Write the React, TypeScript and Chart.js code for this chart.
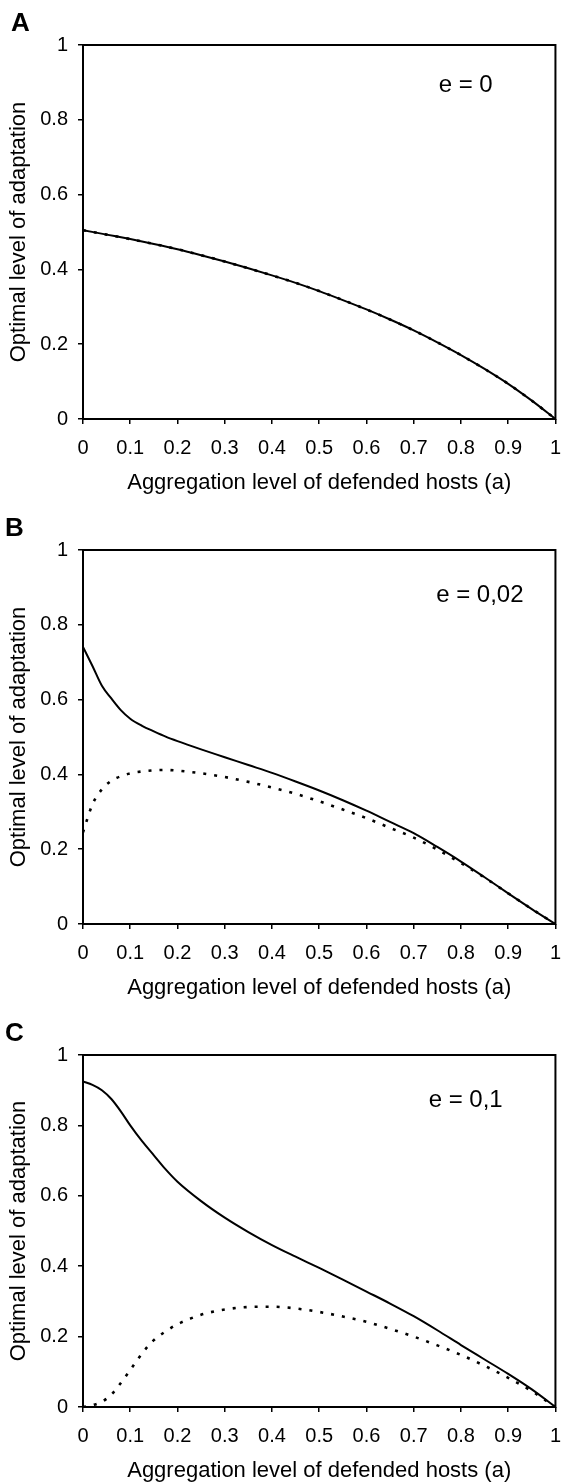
import React, { useEffect, useRef } from 'react';
import { Chart, registerables } from 'chart.js';

Chart.register(...registerables);

// ---------- data ----------
const X_TICK_VALUES = [0, 0.1, 0.2, 0.3, 0.4, 0.5, 0.6, 0.7, 0.8, 0.9, 1];
const X_TICK_LABELS = ['0', '0.1', '0.2', '0.3', '0.4', '0.5', '0.6', '0.7', '0.8', '0.9', '1'];
const Y_TICK_VALUES = [0, 0.2, 0.4, 0.6, 0.8, 1];
const Y_TICK_LABELS = ['0', '0.2', '0.4', '0.6', '0.8', '1'];
const X_TITLE = 'Aggregation level of defended hosts (a)';
const Y_TITLE = 'Optimal level of adaptation';
const PANEL_LETTERS = ['A', 'B', 'C'];
const E_LABELS = ['e = 0', 'e = 0,02', 'e = 0,1'];

// Panel A (e = 0): both curves coincide
const A_X = [0, 0.05, 0.1, 0.15, 0.2, 0.25, 0.3, 0.35, 0.4, 0.45, 0.5, 0.55, 0.6, 0.65, 0.7, 0.75, 0.8, 0.85, 0.9, 0.95, 1];
const A_SOLID = [0.505, 0.493, 0.481, 0.468, 0.454, 0.438, 0.421, 0.403, 0.384, 0.364, 0.342, 0.318, 0.293, 0.266, 0.237, 0.205, 0.171, 0.134, 0.094, 0.049, 0];
const A_DOTTED = [0.505, 0.493, 0.481, 0.468, 0.454, 0.438, 0.421, 0.403, 0.384, 0.364, 0.342, 0.318, 0.293, 0.266, 0.237, 0.205, 0.171, 0.134, 0.094, 0.049, 0];

// Panel B (e = 0,02)
const B_X = [0, 0.02, 0.04, 0.06, 0.08, 0.1, 0.125, 0.15, 0.175, 0.2, 0.25, 0.3, 0.35, 0.4, 0.45, 0.5, 0.55, 0.6, 0.65, 0.7, 0.75, 0.8, 0.85, 0.9, 0.95, 1];
const B_SOLID = [0.741, 0.69, 0.637, 0.603, 0.572, 0.549, 0.53, 0.515, 0.501, 0.489, 0.467, 0.446, 0.425, 0.404, 0.381, 0.357, 0.331, 0.303, 0.273, 0.243, 0.206, 0.167, 0.125, 0.082, 0.04, 0];
const B_DOTTED = [0.245, 0.32, 0.36, 0.383, 0.395, 0.403, 0.408, 0.411, 0.412, 0.41, 0.403, 0.393, 0.38, 0.365, 0.348, 0.328, 0.306, 0.283, 0.257, 0.231, 0.199, 0.163, 0.124, 0.082, 0.04, 0];

// Panel C (e = 0,1)
const C_X = [0, 0.02, 0.04, 0.06, 0.08, 0.1, 0.125, 0.15, 0.175, 0.2, 0.25, 0.3, 0.35, 0.4, 0.45, 0.5, 0.55, 0.6, 0.65, 0.7, 0.75, 0.8, 0.85, 0.9, 0.95, 1];
const C_SOLID = [0.925, 0.915, 0.9, 0.875, 0.84, 0.8, 0.755, 0.715, 0.675, 0.64, 0.585, 0.538, 0.497, 0.46, 0.427, 0.395, 0.362, 0.328, 0.294, 0.258, 0.218, 0.176, 0.135, 0.094, 0.05, 0];
const C_DOTTED = [0, 0.005, 0.015, 0.035, 0.068, 0.105, 0.152, 0.19, 0.215, 0.235, 0.262, 0.277, 0.284, 0.285, 0.28, 0.27, 0.257, 0.242, 0.222, 0.2, 0.175, 0.148, 0.117, 0.083, 0.045, 0];

// ---------- layout / style ----------
const FONT = '"Liberation Sans", Arial, Helvetica, sans-serif';
const PAGE_W = 573;

type PanelCfg = {
  letter: string;
  eLabel: string;
  xs: number[];
  solid: number[];
  dotted: number[];
  canvasTop: number;
  plotTop: number;
  plotBottom: number;
  plotRight: number;
  letterX: number;
  letterY: number;
  eX: number;
  eY: number;
};

const AXIS_H = 77;
const Y_AXIS_W = 83;

const PANELS: PanelCfg[] = [
  { letter: PANEL_LETTERS[0], eLabel: E_LABELS[0], xs: A_X, solid: A_SOLID, dotted: A_DOTTED,
    canvasTop: 0, plotTop: 45, plotBottom: 419, plotRight: 559, letterX: 11, letterY: 31, eX: 0.81, eY: 0.893 },
  { letter: PANEL_LETTERS[1], eLabel: E_LABELS[1], xs: B_X, solid: B_SOLID, dotted: B_DOTTED,
    canvasTop: 500, plotTop: 550, plotBottom: 924, plotRight: 569, letterX: 5, letterY: 536, eX: 0.84, eY: 0.88 },
  { letter: PANEL_LETTERS[2], eLabel: E_LABELS[2], xs: C_X, solid: C_SOLID, dotted: C_DOTTED,
    canvasTop: 1000, plotTop: 1055, plotBottom: 1407, plotRight: 569, letterX: 5, letterY: 1041, eX: 0.81, eY: 0.87 },
];

function Panel({ cfg }: { cfg: PanelCfg }) {
  const ref = useRef<HTMLCanvasElement | null>(null);
  const height = cfg.plotBottom + AXIS_H - cfg.canvasTop;

  useEffect(() => {
    if (!ref.current) return;
    const boxPlugin = {
      id: 'boxAndLabels',
      afterDraw(chart: any) {
        const { ctx, chartArea, scales } = chart;
        ctx.save();
        ctx.strokeStyle = '#000';
        ctx.lineWidth = 2;
        ctx.strokeRect(chartArea.left, chartArea.top, chartArea.right - chartArea.left, chartArea.bottom - chartArea.top);
        ctx.fillStyle = '#000';
        ctx.font = `24px ${FONT}`;
        ctx.textAlign = 'center';
        ctx.textBaseline = 'middle';
        ctx.fillText(cfg.eLabel, scales.x.getPixelForValue(cfg.eX), scales.y.getPixelForValue(cfg.eY));
        ctx.font = `bold 26px ${FONT}`;
        ctx.textAlign = 'left';
        ctx.textBaseline = 'alphabetic';
        ctx.fillText(cfg.letter, cfg.letterX, cfg.letterY - cfg.canvasTop);
        ctx.restore();
      },
    };

    const chart = new Chart(ref.current, {
      type: 'line',
      data: {
        datasets: [
          {
            data: cfg.xs.map((x, i) => ({ x, y: cfg.solid[i] })),
            borderColor: '#000',
            borderWidth: 2,
            pointRadius: 0,
            fill: false,
            cubicInterpolationMode: 'monotone',
          },
          {
            data: cfg.xs.map((x, i) => ({ x, y: cfg.dotted[i] })),
            borderColor: '#000',
            borderWidth: 2.6,
            borderDash: [3, 8],
            pointRadius: 0,
            fill: false,
            cubicInterpolationMode: 'monotone',
          },
        ],
      },
      options: {
        animation: false,
        responsive: true,
        maintainAspectRatio: false,
        events: [],
        layout: { padding: { top: cfg.plotTop - cfg.canvasTop, right: PAGE_W - cfg.plotRight, left: 0, bottom: 0 } },
        plugins: { legend: { display: false }, tooltip: { enabled: false } },
        scales: {
          x: {
            type: 'linear',
            min: 0,
            max: 1,
            afterFit: (s: any) => { s.height = AXIS_H; },
            afterBuildTicks: (s: any) => { s.ticks = X_TICK_VALUES.map((v) => ({ value: v })); },
            ticks: {
              callback: (v: any) => X_TICK_LABELS[X_TICK_VALUES.indexOf(Number(v))] ?? '',
              color: '#000',
              font: { family: FONT, size: 20 },
              padding: 12,
              maxRotation: 0,
              autoSkip: false,
            },
            grid: { display: true, drawOnChartArea: false, drawTicks: true, tickLength: 5, color: '#000', lineWidth: 1.5 },
            border: { display: false },
            title: { display: true, text: X_TITLE, color: '#000', font: { family: FONT, size: 22 }, padding: { top: 0, bottom: 0 } },
          },
          y: {
            type: 'linear',
            min: 0,
            max: 1,
            afterFit: (s: any) => { s.width = Y_AXIS_W; },
            afterBuildTicks: (s: any) => { s.ticks = Y_TICK_VALUES.map((v) => ({ value: v })); },
            ticks: {
              callback: (v: any) => Y_TICK_LABELS[Y_TICK_VALUES.indexOf(Number(v))] ?? '',
              color: '#000',
              font: { family: FONT, size: 20 },
              padding: 10,
              autoSkip: false,
            },
            grid: { display: true, drawOnChartArea: false, drawTicks: true, tickLength: 5, color: '#000', lineWidth: 1.5 },
            border: { display: false },
            title: { display: true, text: Y_TITLE, color: '#000', font: { family: FONT, size: 22 }, padding: { top: 6, bottom: 0 } },
          },
        },
      } as any,
      plugins: [boxPlugin],
    });
    return () => chart.destroy();
  }, [cfg]);

  return (
    <div style={{ position: 'absolute', left: 0, top: cfg.canvasTop, width: PAGE_W, height }}>
      <canvas ref={ref} />
    </div>
  );
}

export default function App() {
  return (
    <div style={{ position: 'absolute', left: 0, top: 0, width: PAGE_W, height: 1483, background: '#fff' }}>
      {PANELS.map((p) => (
        <Panel key={p.letter} cfg={p} />
      ))}
    </div>
  );
}
